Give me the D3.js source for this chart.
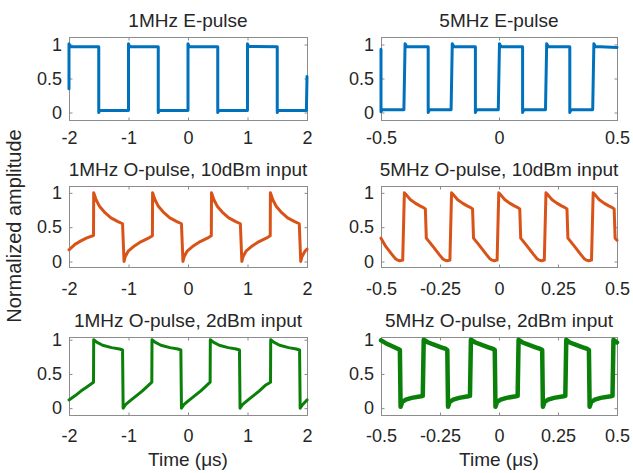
<!DOCTYPE html>
<html>
<head>
<meta charset="utf-8">
<script src="https://cdn.jsdelivr.net/npm/d3@7"></script>
<style>
body { margin: 0; background: #fff; }
text { font-family: "Liberation Sans", Arial, Helvetica, sans-serif; fill: #262626; }
</style>
</head>
<body>
<div id="chart"></div>
<script>
// axis ticks and titles
var ticks1MHz = [-2, -1, 0, 1, 2];
var ticks5MHzTop = [-0.5, 0, 0.5];
var ticks5MHz = [-0.5, -0.25, 0, 0.25, 0.5];
var yTicks = [0, 0.5, 1];
var titles = ["1MHz E-pulse", "5MHz E-pulse",
              "1MHz O-pulse, 10dBm input", "5MHz O-pulse, 10dBm input",
              "1MHz O-pulse, 2dBm input", "5MHz O-pulse, 2dBm input"];

// 1MHz E-pulse (time in us, normalized amplitude)
var e1T = [-2, -2, -1.98, -1.5, -1.5, -1.48, -1.0, -1.0, -0.98, -0.5, -0.5, -0.48, 0.0, 0.0, 0.02,
           0.5, 0.5, 0.52, 1.0, 1.0, 1.02, 1.5, 1.5, 1.52, 1.99, 2.0];
var e1V = [0.35, 1.01, 0.97, 0.965, 0.0, 0.035, 0.03, 1.01, 0.97, 0.965, 0.0, 0.035, 0.03, 1.01, 0.97,
           0.965, 0.0, 0.035, 0.03, 1.01, 0.97, 0.965, 0.0, 0.035, 0.03, 0.53];

// 5MHz E-pulse
var e5T = [-0.5, -0.5, -0.495, -0.403, -0.398, -0.392, -0.3, -0.3, -0.295, -0.203, -0.198, -0.192,
           -0.1, -0.1, -0.095, -0.003, 0.002, 0.008, 0.1, 0.1, 0.105, 0.197, 0.202, 0.208,
           0.3, 0.3, 0.305, 0.397, 0.402, 0.408, 0.5];
var e5V = [0.93, 0.01, 0.04, 0.04, 1.01, 0.97, 0.965, 0.0, 0.04, 0.04, 1.01, 0.97,
           0.965, 0.0, 0.04, 0.04, 1.01, 0.97, 0.965, 0.0, 0.04, 0.04, 1.01, 0.97,
           0.965, 0.0, 0.04, 0.04, 1.01, 0.97, 0.955];

// 1MHz O-pulse, 10dBm input
var o1hT = [-2, -1.9, -1.8, -1.7, -1.6, -1.588,
            -1.585, -1.545, -1.485, -1.405, -1.295, -1.185, -1.1, -1.075, -1.055, -1.005, -0.895, -0.785, -0.665, -0.598,
            -0.595, -0.555, -0.495, -0.415, -0.305, -0.195, -0.11, -0.085, -0.065, -0.015, 0.095, 0.205, 0.325, 0.392,
            0.395, 0.435, 0.495, 0.575, 0.685, 0.795, 0.88, 0.905, 0.925, 0.975, 1.085, 1.195, 1.315, 1.382,
            1.385, 1.425, 1.485, 1.565, 1.675, 1.785, 1.87, 1.895, 1.915, 1.965, 2.0];
var o1hV = [0.17, 0.25, 0.3, 0.345, 0.375, 0.38,
            1.0, 0.9, 0.8, 0.72, 0.635, 0.585, 0.55, 0.0, 0.07, 0.15, 0.23, 0.29, 0.34, 0.375,
            1.0, 0.9, 0.8, 0.72, 0.635, 0.585, 0.55, 0.0, 0.07, 0.15, 0.23, 0.29, 0.34, 0.375,
            1.0, 0.9, 0.8, 0.72, 0.635, 0.585, 0.55, 0.0, 0.07, 0.15, 0.23, 0.29, 0.34, 0.375,
            1.0, 0.9, 0.8, 0.72, 0.635, 0.585, 0.55, 0.0, 0.07, 0.15, 0.18];

// 5MHz O-pulse, 10dBm input
var o5hT = [-0.5, -0.48, -0.453, -0.44, -0.43, -0.42, -0.408,
            -0.401, -0.39, -0.375, -0.355, -0.335, -0.32, -0.312, -0.308, -0.28, -0.253, -0.24, -0.23, -0.22, -0.208,
            -0.201, -0.19, -0.175, -0.155, -0.135, -0.12, -0.112, -0.108, -0.08, -0.053, -0.04, -0.03, -0.02, -0.008,
            -0.001, 0.01, 0.025, 0.045, 0.065, 0.08, 0.088, 0.092, 0.12, 0.147, 0.16, 0.17, 0.18, 0.192,
            0.199, 0.21, 0.225, 0.245, 0.265, 0.28, 0.288, 0.292, 0.32, 0.347, 0.36, 0.37, 0.38, 0.392,
            0.399, 0.41, 0.425, 0.445, 0.465, 0.48, 0.488, 0.492, 0.5];
var o5hV = [0.34, 0.22, 0.1, 0.045, 0.02, 0.012, 0.02,
            1.0, 0.96, 0.9, 0.85, 0.81, 0.785, 0.765, 0.34, 0.22, 0.1, 0.045, 0.02, 0.012, 0.02,
            1.0, 0.96, 0.9, 0.85, 0.81, 0.785, 0.765, 0.34, 0.22, 0.1, 0.045, 0.02, 0.012, 0.02,
            1.0, 0.96, 0.9, 0.85, 0.81, 0.785, 0.765, 0.34, 0.22, 0.1, 0.045, 0.02, 0.012, 0.02,
            1.0, 0.96, 0.9, 0.85, 0.81, 0.785, 0.765, 0.34, 0.22, 0.1, 0.045, 0.02, 0.012, 0.02,
            1.0, 0.96, 0.9, 0.85, 0.81, 0.785, 0.765, 0.34, 0.31];

// 1MHz O-pulse, 2dBm input
var o1lT = [-2, -1.9, -1.8, -1.7, -1.6, -1.588,
            -1.585, -1.535, -1.435, -1.285, -1.15, -1.1, -1.09, -1.05, -0.97, -0.87, -0.77, -0.67, -0.608,
            -0.605, -0.555, -0.455, -0.305, -0.17, -0.12, -0.11, -0.07, 0.01, 0.11, 0.21, 0.31, 0.372,
            0.375, 0.425, 0.525, 0.675, 0.81, 0.865, 0.875, 0.915, 0.995, 1.095, 1.195, 1.295, 1.387,
            1.39, 1.44, 1.54, 1.69, 1.82, 1.875, 1.885, 1.925, 2.0];
var o1lV = [0.12, 0.18, 0.25, 0.31, 0.37, 0.38,
            1.0, 0.965, 0.92, 0.885, 0.865, 0.85, 0.0, 0.05, 0.11, 0.18, 0.25, 0.33, 0.38,
            1.0, 0.965, 0.92, 0.885, 0.865, 0.85, 0.0, 0.05, 0.11, 0.18, 0.25, 0.33, 0.38,
            1.0, 0.965, 0.92, 0.885, 0.865, 0.85, 0.0, 0.05, 0.11, 0.18, 0.25, 0.33, 0.38,
            1.0, 0.965, 0.92, 0.885, 0.865, 0.85, 0.0, 0.05, 0.12];

// 5MHz O-pulse, 2dBm input
var o5lT = [-0.5, -0.48, -0.45, -0.425, -0.42, -0.417, -0.41, -0.395, -0.37, -0.33, -0.323,
            -0.319, -0.3, -0.27, -0.245, -0.225, -0.219, -0.216, -0.209, -0.194, -0.169, -0.13, -0.123,
            -0.119, -0.1, -0.07, -0.045, -0.025, -0.018, -0.015, -0.008, 0.007, 0.032, 0.072, 0.079,
            0.083, 0.1, 0.13, 0.155, 0.175, 0.183, 0.186, 0.193, 0.208, 0.233, 0.274, 0.281,
            0.285, 0.3, 0.33, 0.355, 0.375, 0.381, 0.384, 0.391, 0.406, 0.431, 0.474, 0.481,
            0.485, 0.5];
var o5lV = [0.99, 0.95, 0.9, 0.86, 0.85, 0.02, 0.09, 0.125, 0.15, 0.175, 0.18,
            1.0, 0.96, 0.92, 0.89, 0.865, 0.85, 0.02, 0.09, 0.125, 0.15, 0.175, 0.18,
            1.0, 0.96, 0.92, 0.89, 0.865, 0.85, 0.02, 0.09, 0.125, 0.15, 0.175, 0.18,
            1.0, 0.96, 0.92, 0.89, 0.865, 0.85, 0.02, 0.09, 0.125, 0.15, 0.175, 0.18,
            1.0, 0.96, 0.92, 0.89, 0.865, 0.85, 0.02, 0.09, 0.125, 0.15, 0.175, 0.18,
            1.0, 0.96];

var colors = ["#0072BD", "#D95319", "#0A800A"];

var width = 633, height = 473;

// box positions of the 3x2 grid
var colX = [[69, 307], [381, 617]];
var rowY = [[37, 120], [186, 267], [337, 415]];
var rowDomain = [[-0.11, 1.11], [-0.08, 1.1], [-0.1, 1.04]];
var rowPad = [11, 14.5, 14];

var panels = [
    {row: 0, col: 0, t: e1T, v: e1V, xd: [-2, 2], xt: ticks1MHz, c: colors[0], w: 3},
    {row: 0, col: 1, t: e5T, v: e5V, xd: [-0.5, 0.5], xt: ticks5MHzTop, c: colors[0], w: 3},
    {row: 1, col: 0, t: o1hT, v: o1hV, xd: [-2, 2], xt: ticks1MHz, c: colors[1], w: 3},
    {row: 1, col: 1, t: o5hT, v: o5hV, xd: [-0.5, 0.5], xt: ticks5MHz, c: colors[1], w: 3},
    {row: 2, col: 0, t: o1lT, v: o1lV, xd: [-2, 2], xt: ticks1MHz, c: colors[2], w: 3},
    {row: 2, col: 1, t: o5lT, v: o5lV, xd: [-0.5, 0.5], xt: ticks5MHz, c: colors[2], w: 4.5}
];

var svg = d3.select("#chart").append("svg")
    .attr("width", width)
    .attr("height", height);

var fmt = function(d) { return String(d); };

panels.forEach(function(p, i) {
    var x0 = colX[p.col][0], x1 = colX[p.col][1];
    var y0 = rowY[p.row][0], y1 = rowY[p.row][1];

    var x = d3.scaleLinear().domain(p.xd).range([x0, x1]);
    var y = d3.scaleLinear().domain(rowDomain[p.row]).range([y1, y0]);

    var g = svg.append("g");

    // box
    g.append("rect")
        .attr("x", x0 + 0.5).attr("y", y0 + 0.5)
        .attr("width", x1 - x0).attr("height", y1 - y0)
        .attr("fill", "none").attr("stroke", "#8c8c8c").attr("stroke-width", 1);

    // bottom axis, ticks inside
    var ax = g.append("g")
        .attr("transform", "translate(0," + (y1 + 0.5) + ")")
        .call(d3.axisBottom(x).tickValues(p.xt).tickFormat(fmt).tickSizeInner(-3).tickSizeOuter(0).tickPadding(rowPad[p.row]));
    // top ticks
    var axt = g.append("g")
        .attr("transform", "translate(0," + (y0 + 0.5) + ")")
        .call(d3.axisTop(x).tickValues(p.xt).tickFormat("").tickSizeInner(-3).tickSizeOuter(0));
    // left axis
    var ay = g.append("g")
        .attr("transform", "translate(" + (x0 + 0.5) + ",0)")
        .call(d3.axisLeft(y).tickValues(yTicks).tickFormat(fmt).tickSizeInner(-3).tickSizeOuter(0).tickPadding(7.5));
    // right ticks
    var ayr = g.append("g")
        .attr("transform", "translate(" + (x1 + 0.5) + ",0)")
        .call(d3.axisRight(y).tickValues(yTicks).tickFormat("").tickSizeInner(-3).tickSizeOuter(0));

    [ax, axt, ay, ayr].forEach(function(a) {
        a.select(".domain").remove();
        a.selectAll("line").attr("stroke", "#8c8c8c");
        a.selectAll("text").attr("font-size", "18px").attr("fill", "#262626")
            .attr("font-family", "'Liberation Sans', Arial, sans-serif");
    });

    // title
    g.append("text")
        .attr("x", (x0 + x1) / 2)
        .attr("y", y0 - 10)
        .attr("text-anchor", "middle")
        .attr("font-size", "19px")
        .text(titles[i]);

    // waveform
    var pts = p.t.map(function(t, k) { return [t, p.v[k]]; });
    var line = d3.line()
        .x(function(d) { return x(d[0]); })
        .y(function(d) { return y(d[1]); });

    g.append("path")
        .datum(pts)
        .attr("d", line)
        .attr("fill", "none")
        .attr("stroke", p.c)
        .attr("stroke-width", p.w)
        .attr("stroke-linejoin", "round")
        .attr("stroke-linecap", "round");
});

// y axis label
svg.append("text")
    .attr("transform", "rotate(-90)")
    .attr("x", -226)
    .attr("y", 21)
    .attr("text-anchor", "middle")
    .attr("font-size", "20px")
    .text("Normalized amplitude");

// x axis labels
[0, 1].forEach(function(c) {
    svg.append("text")
        .attr("x", (colX[c][0] + colX[c][1]) / 2)
        .attr("y", 466)
        .attr("text-anchor", "middle")
        .attr("font-size", "19px")
        .text("Time (μs)");
});
</script>
</body>
</html>
